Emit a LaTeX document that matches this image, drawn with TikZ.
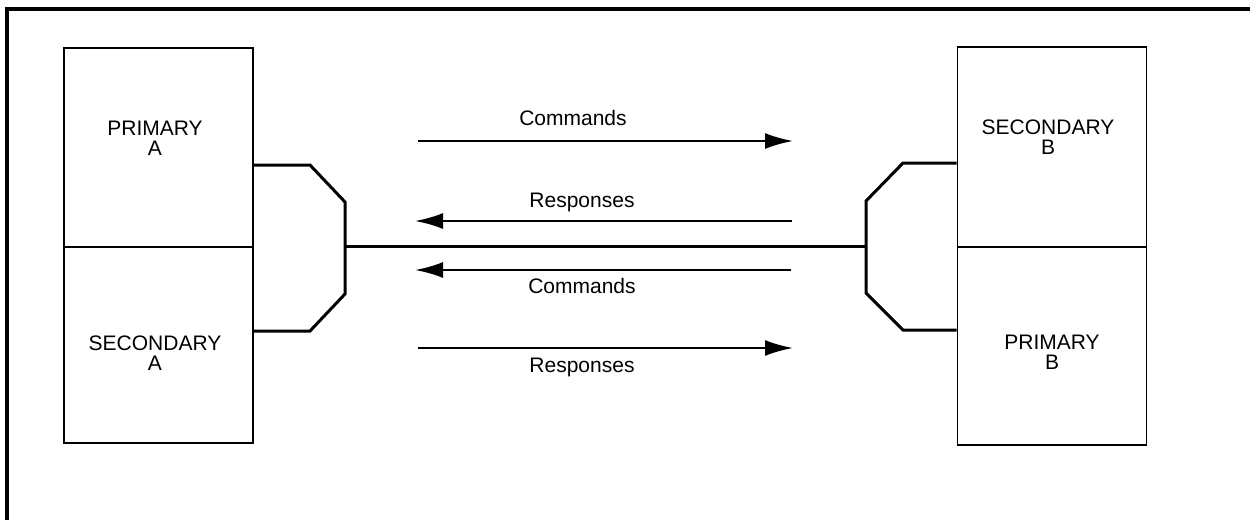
\documentclass[tikz,border=0pt]{standalone}
\usepackage{fontspec}
\setmainfont{Liberation Sans}
\usetikzlibrary{arrows.meta}
\begin{document}
\begin{tikzpicture}[x=1pt,y=-1pt,
  box/.style={draw,line width=1.8pt,minimum width=189pt,inner sep=0pt},
  lbl/.style={font=\fontsize{21}{20}\selectfont,align=center,inner sep=0pt},
  conn/.style={line width=3pt,line join=miter},
  arr/.style={line width=2.4pt,-{Latex[length=28pt,width=16pt]}},
  frame/.style={line width=3.5pt}]
\useasboundingbox (0,0) rectangle (1250,520);
% frame
\coordinate (f1) at (1250,9);
\coordinate (f2) at (7,9);
\coordinate (f3) at (7,520);
\draw[frame] (f1) -- (f2) -- (f3);
% boxes A
\node[box,minimum height=199pt] (pa) at (158.5,147.5) {};
\node[box,minimum height=196pt] (sa) at (158.5,345) {};
\node[lbl] (tpa) at (155,138) {PRIMARY\\A};
\node[lbl] (tsa) at (155,353) {SECONDARY\\A};
% boxes B
\node[box,minimum height=200pt] (sb) at (1052,147) {};
\node[box,minimum height=198pt] (pb) at (1052,346) {};
\node[lbl] (tsb) at (1048,137) {SECONDARY\\B};
\node[lbl] (tpb) at (1052,352) {PRIMARY\\B};
% connector shapes
\coordinate (la1) at (310,165);
\coordinate (la2) at (345,202);
\coordinate (la3) at (345,294);
\coordinate (la4) at (310,331);
\coordinate (lm) at (345,246);
\draw[conn] (pa.east |- la1) -- (la1) -- (la2) -- (la3) -- (la4) -- (sa.east |- la4);
\coordinate (rb1) at (903,163);
\coordinate (rb2) at (866,201);
\coordinate (rb3) at (866,293);
\coordinate (rb4) at (903,330);
\coordinate (rm) at (866,246);
\draw[conn] (sb.west |- rb1) -- (rb1) -- (rb2) -- (rb3) -- (rb4) -- (pb.west |- rb4);
\draw[conn] (lm) -- (rm);
% arrows
\coordinate (a1s) at (418,141); \coordinate (a1e) at (793,141);
\coordinate (a2s) at (792,221); \coordinate (a2e) at (415,221);
\coordinate (a3s) at (791,270); \coordinate (a3e) at (415,270);
\coordinate (a4s) at (418,348); \coordinate (a4e) at (793,348);
\draw[arr] (a1s) -- (a1e);
\draw[arr] (a2s) -- (a2e);
\draw[arr] (a3s) -- (a3e);
\draw[arr] (a4s) -- (a4e);
\node[lbl] (c1) at (573,118) {Commands};
\node[lbl] (r1) at (582,202) {Responses};
\node[lbl] (c2) at (582,286) {Commands};
\node[lbl] (r2) at (582,367) {Responses};
\end{tikzpicture}
\end{document}
